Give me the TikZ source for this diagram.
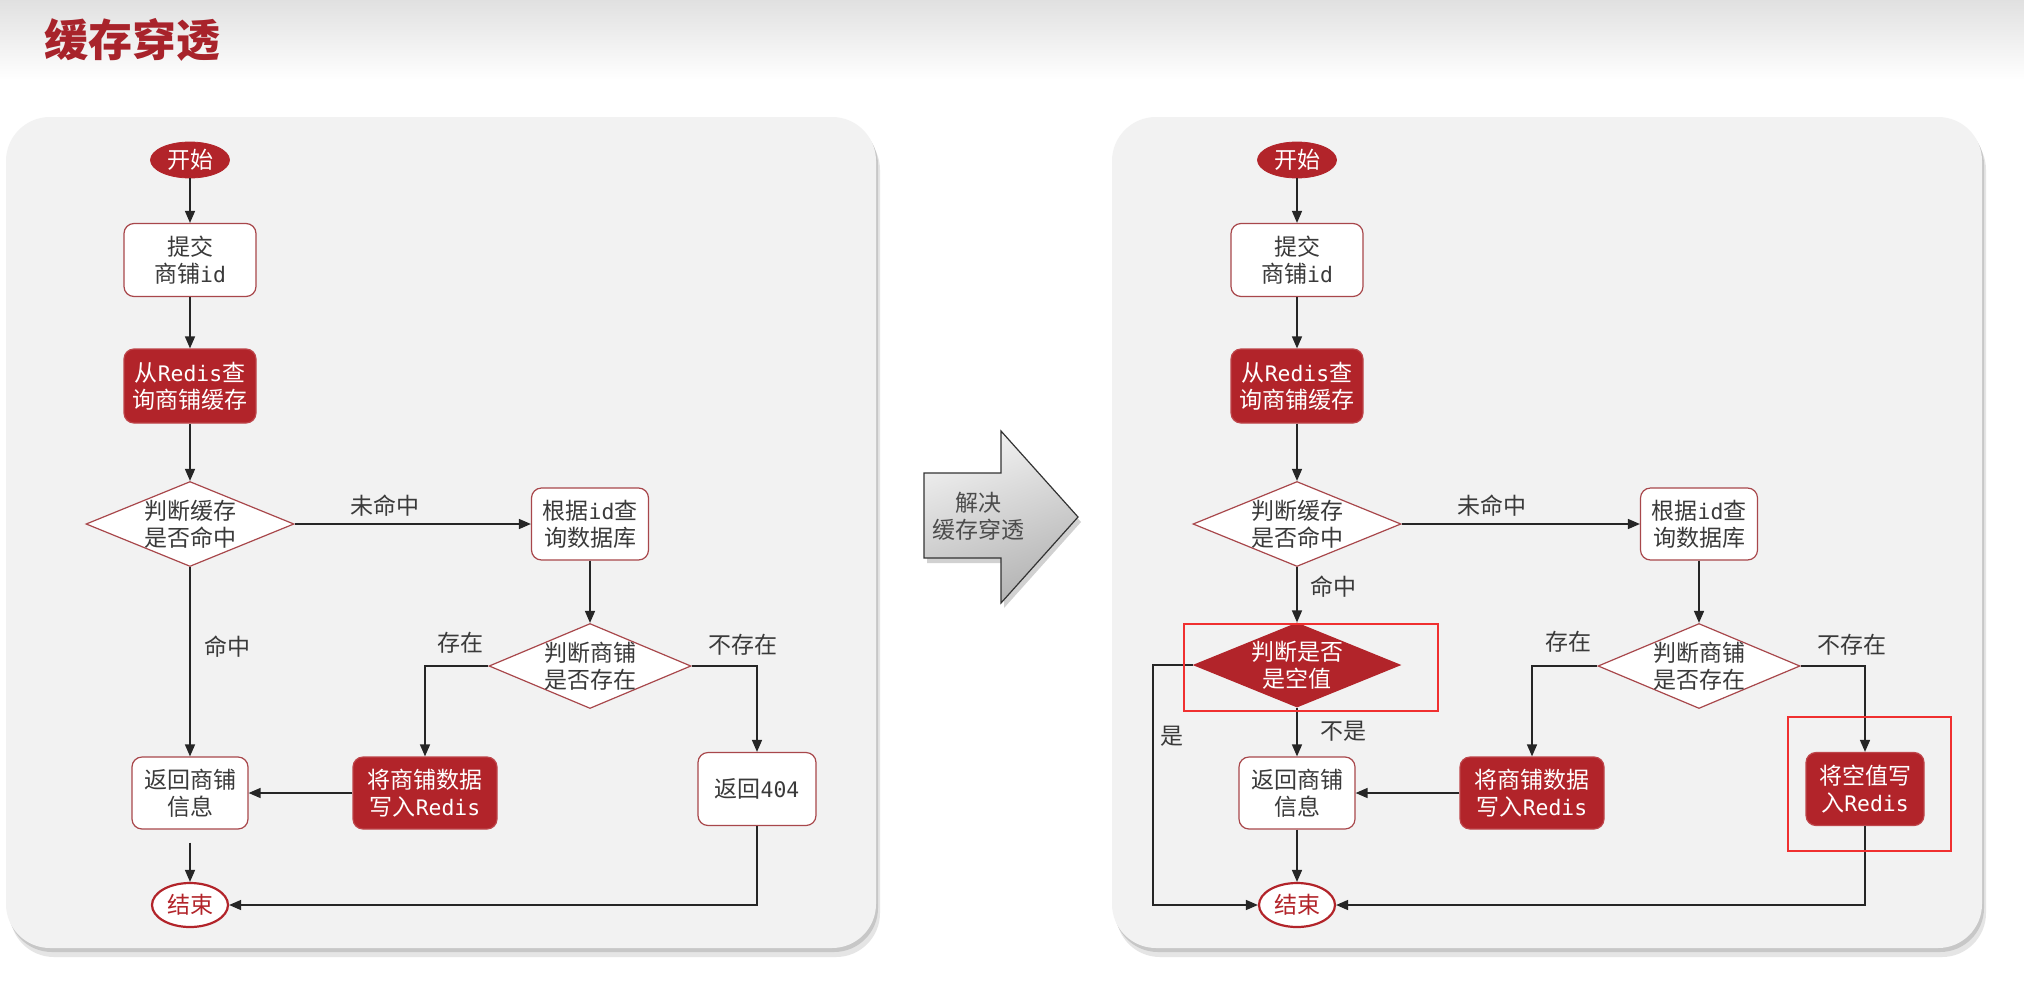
\documentclass[tikz,border=0pt]{standalone}
\usepackage{fontspec}
\setmainfont{Noto Sans CJK SC}
\newfontfamily\latmono{DejaVu Sans Mono}[Scale=0.93]
\newcommand{\lm}[1]{{\latmono #1}}
\newcommand{\fs}{\fontsize{11.5}{13.5}\selectfont}
\usetikzlibrary{shapes.geometric,arrows.meta,calc}
\definecolor{rd}{HTML}{B2242A}
\definecolor{rdline}{HTML}{A8474B}
\definecolor{txt}{HTML}{3A3A3A}
\definecolor{panel}{HTML}{F2F2F2}
\definecolor{hl}{HTML}{F03030}
\definecolor{ttl}{HTML}{A8232B}
\tikzset{
  box/.style={rectangle, rounded corners=5pt, draw=rdline, line width=0.6pt, fill=white, text=txt, align=center, inner sep=0pt, font=\fs},
  redbox/.style={box, fill=rd, draw=rd!85!white, text=white},
  dia/.style={diamond, aspect=2.45, draw=rdline, line width=0.6pt, fill=white, text=txt, align=center, inner sep=-2pt, font=\fs},
  reddia/.style={dia, fill=rd, draw=rd, text=white},
  startnode/.style={ellipse, fill=rd, draw=rd, text=white, inner sep=0pt, minimum width=39.5pt, minimum height=18pt, font=\fs},
  endnode/.style={ellipse, fill=white, draw=rd, line width=1.1pt, text=rd, inner sep=0pt, minimum width=38pt, minimum height=22pt, font=\fs},
  lbl/.style={text=txt, font=\fs, inner sep=0pt},
  ar/.style={draw=black!85, line width=0.75pt, -{Triangle[length=6pt,width=5pt]}},
  ln/.style={draw=black!85, line width=0.75pt},
  hlbox/.style={draw=hl, line width=0.7pt},
  panelbox/.style={fill=panel, rounded corners=22pt}
}
\begin{document}
\begin{tikzpicture}[x=0.5pt,y=-0.5pt]
\useasboundingbox (0,0) rectangle (2024,996);
\fill[white] (0,0) rectangle (2024,996);
\shade[top color=black!12, bottom color=white] (0,0) rectangle (2024,80);
\node[font=\fontsize{22}{26}\selectfont\bfseries, text=ttl, inner sep=0pt] (title) at (132,40) {缓存穿透};

% panels with shadows
\foreach \dx in {0,1106}{
  \fill[black!10, rounded corners=22pt] (6+\dx+4,117+9) rectangle (876+\dx+4,948+9);
  \fill[black!22, rounded corners=22pt] (6+\dx+2,117+4) rectangle (876+\dx+2,948+4);
  \fill[panelbox] (6+\dx,117) rectangle (876+\dx,948);
}

% middle block arrow
\fill[black!18] (927,478) -- (1004,478) -- (1004,436) -- (1081,522) -- (1004,608) -- (1004,563) -- (927,563) -- cycle;
\shade[top color=black!5, bottom color=black!30, shading angle=20, draw=black!80, line width=0.6pt]
  (924,473) -- (1001,473) -- (1001,431) -- (1078,517) -- (1001,603) -- (1001,558) -- (924,558) -- cycle;
\node[lbl, align=center, text=black!70] (solve) at (978,516) {解决\\缓存穿透};

% ---------------- left chart ----------------
\node[startnode] (start1) at (190,160) {开始};
\node[box, minimum width=66pt, minimum height=36.5pt] (submit1) at (190,260) {提交\\商铺\lm{id}};
\node[redbox, minimum width=66pt, minimum height=37pt] (query1) at (190,386) {从\lm{Redis}查\\询商铺缓存};
\node[dia, minimum width=104pt, minimum height=42.5pt] (hit1) at (190,524) {判断缓存\\是否命中};
\node[box, minimum width=58.5pt, minimum height=36pt] (db1) at (590,524) {根据\lm{id}查\\询数据库};
\node[dia, minimum width=101pt, minimum height=42.5pt] (exist1) at (590,666) {判断商铺\\是否存在};
\node[redbox, minimum width=72pt, minimum height=36pt] (write1) at (425,793) {将商铺数据\\写入\lm{Redis}};
\node[box, minimum width=58pt, minimum height=36pt] (ret1) at (190,793) {返回商铺\\信息};
\node[box, minimum width=59pt, minimum height=36.5pt] (nf1) at (757,789) {返回\lm{404}};
\node[endnode] (end1) at (190,905) {结束};

\node[lbl] (miss1) at (385,506) {未命中};
\node[lbl] (ex1) at (460,643) {存在};
\node[lbl] (nex1) at (743,645) {不存在};
\node[lbl] (hitl1) at (227,647) {命中};

\draw[ar] (start1) -- (submit1);
\draw[ar] (submit1) -- (query1);
\draw[ar] (query1) -- (hit1);
\draw[ar] (hit1.east) -- (db1.west);
\draw[ar] (db1) -- (exist1);
\draw[ar] (exist1.west) -| (write1.north);
\draw[ar] (exist1.east) -| (nf1.north);
\draw[ar] (hit1.south) -- (ret1.north);
\draw[ar] (write1.west) -- (ret1.east);
\draw[ar, shorten <=6.5pt] (ret1.south) -- (end1.north);
\draw[ar] (nf1.south) |- (end1.east);

% ---------------- right chart ----------------
\node[startnode] (start2) at (1297,160) {开始};
\node[box, minimum width=66pt, minimum height=36.5pt] (submit2) at (1297,260) {提交\\商铺\lm{id}};
\node[redbox, minimum width=66pt, minimum height=37pt] (query2) at (1297,386) {从\lm{Redis}查\\询商铺缓存};
\node[dia, minimum width=104pt, minimum height=42.5pt] (hit2) at (1297,524) {判断缓存\\是否命中};
\node[box, minimum width=58.5pt, minimum height=36pt] (db2) at (1699,524) {根据\lm{id}查\\询数据库};
\node[dia, minimum width=101pt, minimum height=42.5pt] (exist2) at (1699,666) {判断商铺\\是否存在};
\node[reddia, minimum width=103pt, minimum height=42pt] (empty2) at (1297,665) {判断是否\\是空值};
\node[box, minimum width=58pt, minimum height=36pt] (ret2) at (1297,793) {返回商铺\\信息};
\node[redbox, minimum width=72pt, minimum height=36pt] (write2) at (1532,793) {将商铺数据\\写入\lm{Redis}};
\node[redbox, minimum width=59pt, minimum height=36.5pt] (nullw2) at (1865,789) {将空值写\\入\lm{Redis}};
\node[endnode] (end2) at (1297,905) {结束};
\coordinate (yc) at (1153,905);

\node[lbl] (miss2) at (1492,506) {未命中};
\node[lbl] (hitl2) at (1333,587) {命中};
\node[lbl] (ex2) at (1568,642) {存在};
\node[lbl] (nex2) at (1852,645) {不存在};
\node[lbl] (notl2) at (1343,731) {不是};
\node[lbl] (yesl2) at (1172,736) {是};

\draw[ar] (start2) -- (submit2);
\draw[ar] (submit2) -- (query2);
\draw[ar] (query2) -- (hit2);
\draw[ar] (hit2.east) -- (db2.west);
\draw[ar] (db2) -- (exist2);
\draw[ar] (exist2.west) -| (write2.north);
\draw[ar] (exist2.east) -| (nullw2.north);
\draw[ar] (hit2.south) -- (empty2.north);
\draw[ar] (empty2.south) -- (ret2.north);
\draw[ar] (write2.west) -- (ret2.east);
\draw[ar] (ret2.south) -- (end2.north);
\draw[ar] (nullw2.south) |- (end2.east);
\draw[ar] (empty2.west) -| (yc) -- (end2.west);

% highlight boxes
\draw[hlbox] (1184,624) rectangle (1438,711);
\draw[hlbox] (1788,717) rectangle (1951,851);
\end{tikzpicture}
\end{document}
